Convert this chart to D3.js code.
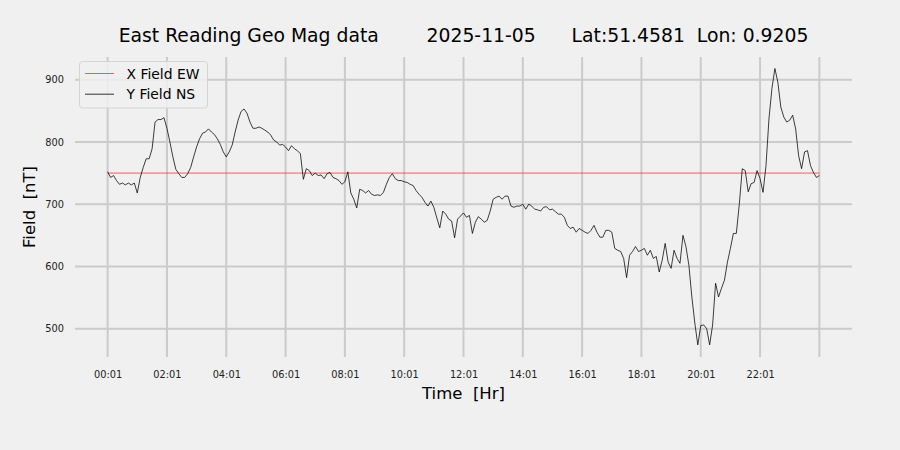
<!DOCTYPE html>
<html><head><meta charset="utf-8">
<script src="https://cdn.jsdelivr.net/npm/d3@7"></script>
<style>
html,body{margin:0;padding:0;background:#f0f0f0;}
svg{display:block;font-family:"DejaVu Sans",sans-serif;}
</style></head>
<body>
<svg id="chart" width="900" height="450"></svg>
<script>
// ---- data ----
const titleText = "East Reading Geo Mag data        2025-11-05      Lat:51.4581  Lon: 0.9205";
const xLabel = "Time  [Hr]";
const yLabel = "Field  [nT]";
const seriesNames = ["X Field EW", "Y Field NS"];
const xTickHours = [0, 2, 4, 6, 8, 10, 12, 14, 16, 18, 20, 22, 24];
const xTickLabels = ["00:01","02:01","04:01","06:01","08:01","10:01","12:01","14:01","16:01","18:01","20:01","22:01",""];
const yTicks = [500, 600, 700, 800, 900];
const startHour = 0, stepHours = 0.1;   // sample spacing of the NS series
const xFieldEW = [750, 750];            // EW level, drawn from first to last sample
const yFieldNS = [
 752,743,746,738,732,734,731,734,731,734,
 718,743,759,773,773,789,832,836,836,839,
 822,800,776,756,749,743,743,749,759,776,
 792,805,814,816,821,816,812,805,796,784,
 776,784,795,816,835,849,853,846,832,822,
 822,824,822,819,816,811,803,800,795,796,
 792,786,794,789,786,781,740,757,754,746,
 750,746,747,741,749,751,743,741,738,732,
 736,752,718,708,694,724,722,718,722,716,
 714,715,714,719,732,743,749,741,738,738,
 736,735,732,730,722,716,711,703,697,705,
 695,678,662,689,684,676,673,646,676,681,
 686,679,682,653,671,680,676,671,674,689,
 708,711,713,708,713,713,697,695,697,697,
 700,692,700,697,692,691,689,695,696,691,
 692,688,684,684,679,666,661,663,655,661,
 658,655,653,658,666,655,647,647,658,658,
 655,629,626,624,613,582,618,624,632,624,
 626,629,618,626,613,616,591,610,637,607,
 597,626,613,605,650,632,602,551,509,474,
 505,506,500,474,506,573,551,565,578,607,
 629,653,653,700,757,754,720,733,735,754,
 741,719,762,837,886,918,896,856,840,832,
 835,843,821,778,757,784,786,762,751,743,
 746
];

// ---- layout ----
const svg = d3.select("#chart");
const L = 75, R = 852, T = 57, B = 357;
const x = d3.scaleLinear().domain([-1.1, 25.1]).range([L, R]);
const y = d3.scaleLinear().domain([454.5, 936.5]).range([B, T]);

svg.append("rect").attr("width",900).attr("height",450).attr("fill","#f0f0f0");

// grid
const gridColor = "#cbcbcb";
svg.append("g").selectAll("line").data(yTicks).join("line")
  .attr("x1", L).attr("x2", R).attr("y1", d=>y(d)).attr("y2", d=>y(d))
  .attr("stroke", gridColor).attr("stroke-width", 2);
svg.append("g").selectAll("line").data(xTickHours).join("line")
  .attr("x1", d=>x(d)).attr("x2", d=>x(d)).attr("y1", T).attr("y2", B)
  .attr("stroke", gridColor).attr("stroke-width", 2);

// axes (labels only, via d3 axes)
const xAxis = d3.axisBottom(x).tickValues(xTickHours)
  .tickFormat((d,i)=>xTickLabels[i]).tickSize(0).tickPadding(14);
const gx = svg.append("g").attr("transform",`translate(0,${B})`).call(xAxis);
gx.select(".domain").remove();
gx.selectAll("text").attr("font-size","9.8px").attr("fill","#222").attr("font-family","DejaVu Sans");

const yAxis = d3.axisLeft(y).tickValues(yTicks).tickSize(0).tickPadding(11);
const gy = svg.append("g").attr("transform",`translate(${L},0)`).call(yAxis);
gy.select(".domain").remove();
gy.selectAll("text").attr("font-size","9.8px").attr("fill","#222").attr("font-family","DejaVu Sans");

// series
const nsData = yFieldNS.map((v,i)=>({h: startHour + i*stepHours, v}));
const lastH = nsData[nsData.length-1].h;
const ewData = xFieldEW.map((v,i)=>({h: i===0 ? startHour : lastH, v}));
const line = d3.line().x(d=>x(d.h)).y(d=>y(d.v));

svg.append("path").datum(ewData).attr("d", line)
  .attr("fill","none").attr("stroke","#ff3030").attr("stroke-width",0.8);
svg.append("path").datum(nsData).attr("d", line)
  .attr("fill","none").attr("stroke","#000").attr("stroke-width",0.75)
  .attr("stroke-linejoin","round");

// title
svg.append("text").attr("x",(L+R)/2).attr("y",42).attr("text-anchor","middle")
  .attr("font-size","18.8px").attr("fill","#000").style("white-space","pre")
  .attr("xml:space","preserve").text(titleText);

// axis labels
svg.append("text").attr("x",(L+R)/2).attr("y",399).attr("text-anchor","middle")
  .attr("font-size","16.5px").attr("fill","#000").style("white-space","pre")
  .attr("xml:space","preserve").text(xLabel);
svg.append("text").attr("transform",`translate(35,${(T+B)/2}) rotate(-90)`)
  .attr("text-anchor","middle").attr("font-size","16.5px").attr("fill","#000")
  .style("white-space","pre").attr("xml:space","preserve").text(yLabel);

// legend
const lg = svg.append("g");
lg.append("rect").attr("x",79.5).attr("y",61.5).attr("width",128).attr("height",46.5)
  .attr("rx",3).attr("fill","#f0f0f0").attr("fill-opacity",0.85)
  .attr("stroke","#d4d4d4").attr("stroke-width",1);
const legendColors = ["#ff3030","#000"];
seriesNames.forEach((name,i)=>{
  const yy = 73.5 + i*20.7;
  lg.append("line").attr("x1",85).attr("x2",114).attr("y1",yy).attr("y2",yy)
    .attr("stroke",legendColors[i]).attr("stroke-width",0.8);
  lg.append("text").attr("x",126.5).attr("y",yy+5).attr("font-size","13.9px")
    .attr("fill","#000").text(name);
});
</script>
</body></html>
